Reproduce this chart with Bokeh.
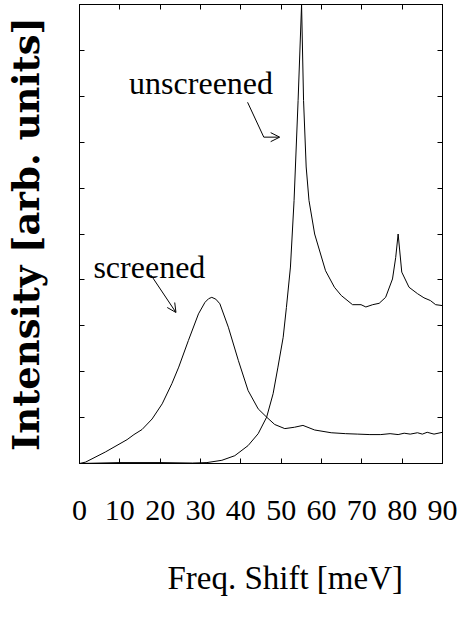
from bokeh.plotting import figure
from bokeh.models import (Range1d, FixedTicker, LinearAxis, Label, Arrow, OpenHead)
from bokeh.embed import file_html
from bokeh.resources import INLINE

# ---- data ----
screened_x = [0, 1.5, 6.4, 11.8, 13.5, 15.5, 18.0, 20.5, 22.9, 24.6,
              27.0, 29.5, 31.1, 32.0, 32.8, 33.8, 34.8, 36.9, 39.4, 41.8,
              44.3, 46.4, 48.4, 50.9, 53.3, 55.4, 58.3, 62.4, 66, 69.0,
              72, 74.7, 77, 79, 80.5, 82, 83.8, 85, 86.2, 87.9, 90]
screened_y = [0, 0.03, 0.25, 0.52, 0.63, 0.74, 0.97, 1.30, 1.74, 2.10,
              2.68, 3.26, 3.51, 3.59, 3.62, 3.58, 3.48, 2.97, 2.24, 1.59,
              1.19, 1.01, 0.85, 0.76, 0.79, 0.83, 0.73, 0.67, 0.65, 0.64,
              0.63, 0.63, 0.65, 0.63, 0.66, 0.64, 0.67, 0.64, 0.68, 0.64, 0.68]

unscreened_x = [0, 10, 20, 28, 31.6, 35.3, 38.5, 41.8, 44.3, 46.4,
                48.0, 49.2, 50.5, 51.3, 52.3, 53.2, 54.2, 55.06, 55.55, 56.2,
                56.9, 58.3, 61.0, 63.2, 64.9, 67.7, 69.8, 71.0, 72.7, 74.3,
                75.9, 77.6, 78.4, 79.0, 79.9, 81.7, 83.8, 85.4, 87.0, 88.3, 90]
unscreened_y = [0, 0.02, 0.02, 0.01, 0.02, 0.07, 0.17, 0.39, 0.65, 1.01,
                1.52, 2.10, 2.75, 3.40, 4.28, 5.73, 7.91, 10.0, 7.91, 6.46,
                5.73, 5.00, 4.20, 3.84, 3.66, 3.46, 3.46, 3.41, 3.46, 3.49,
                3.62, 4.02, 4.49, 5.00, 4.17, 3.84, 3.70, 3.61, 3.55, 3.46, 3.44]

x_ticks = [0, 10, 20, 30, 40, 50, 60, 70, 80, 90]
y_ticks = [0, 1, 2, 3, 4, 5, 6, 7, 8, 9, 10]

x_label = "Freq. Shift [meV]"
y_label = "Intensity [arb. units]"

SERIF = "'Liberation Serif', serif"
BOLD_SERIF = "'DejaVu Serif', serif"

p = figure(width=459, height=606, x_range=Range1d(0, 90), y_range=Range1d(0, 10),
           output_backend="svg", toolbar_location=None,
           min_border_left=77, min_border_right=17, min_border_top=4, min_border_bottom=143)
p.xgrid.visible = False
p.ygrid.visible = False
p.outline_line_color = "black"
p.outline_line_width = 1
p.background_fill_color = "white"
p.border_fill_color = "white"

# bottom axis
xa = p.xaxis[0]
xa.ticker = FixedTicker(ticks=x_ticks)
xa.major_tick_in = 5
xa.major_tick_out = 0
xa.minor_tick_line_color = None
xa.major_label_text_font = SERIF
xa.major_label_text_font_size = "30px"
xa.major_label_text_color = "black"
xa.major_label_standoff = 37
xa.axis_line_color = "black"
xa.major_tick_line_color = "black"

# x-axis title: a second, line-less axis below with one labelled position,
# so the title can sit right of centre as in the reference
title_pos = 51
xt = LinearAxis(ticker=FixedTicker(ticks=[title_pos]),
                major_label_overrides={title_pos: x_label},
                major_tick_line_color=None, minor_tick_line_color=None,
                axis_line_color=None, major_tick_in=0, major_tick_out=0,
                major_label_standoff=37, major_label_text_font=SERIF,
                major_label_text_font_size="33px", major_label_text_color="black")
p.add_layout(xt, "below")

# left axis
ya = p.yaxis[0]
ya.ticker = FixedTicker(ticks=y_ticks)
ya.major_tick_in = 5
ya.major_tick_out = 0
ya.minor_tick_line_color = None
ya.major_label_overrides = {t: "" for t in y_ticks}
ya.major_label_standoff = 0
ya.axis_label = y_label
ya.axis_label_text_font = BOLD_SERIF
ya.axis_label_text_font_style = "bold"
ya.axis_label_text_font_size = "37px"
ya.axis_label_text_color = "black"
ya.axis_label_standoff = 32
ya.axis_line_color = "black"

# mirrored axes (ticks only)
ra = LinearAxis(ticker=FixedTicker(ticks=y_ticks), major_tick_in=5, major_tick_out=0,
                minor_tick_line_color=None, major_label_text_font_size="1px",
                major_label_overrides={t: "" for t in y_ticks}, major_label_standoff=0)
p.add_layout(ra, "right")
ta = LinearAxis(ticker=FixedTicker(ticks=x_ticks), major_tick_in=5, major_tick_out=0,
                minor_tick_line_color=None, major_label_text_font_size="1px",
                major_label_overrides={t: "" for t in x_ticks}, major_label_standoff=0)
p.add_layout(ta, "above")

# curves
p.line(screened_x, screened_y, line_color="black", line_width=1)
p.line(unscreened_x, unscreened_y, line_color="black", line_width=1)

# annotations
p.add_layout(Label(x=12.3, y=8.28, text="unscreened", text_font=SERIF,
                   text_font_size="32px", text_color="black", text_baseline="alphabetic"))
p.add_layout(Label(x=3.45, y=4.29, text="screened", text_font=SERIF,
                   text_font_size="32px", text_color="black", text_baseline="alphabetic"))

p.add_layout(Arrow(end=OpenHead(size=9, line_width=1, line_color="black"),
                   x_start=17.76, y_start=4.10, x_end=23.92, y_end=3.29,
                   line_width=1, line_color="black"))
p.segment(x0=[41.67], y0=[7.87], x1=[45.69], y1=[7.11], line_color="black", line_width=1)
p.add_layout(Arrow(end=OpenHead(size=9, line_width=1, line_color="black"),
                   x_start=45.69, y_start=7.11, x_end=49.63, y_end=7.11,
                   line_width=1, line_color="black"))

open("out.html", "w").write(file_html(p, INLINE))
